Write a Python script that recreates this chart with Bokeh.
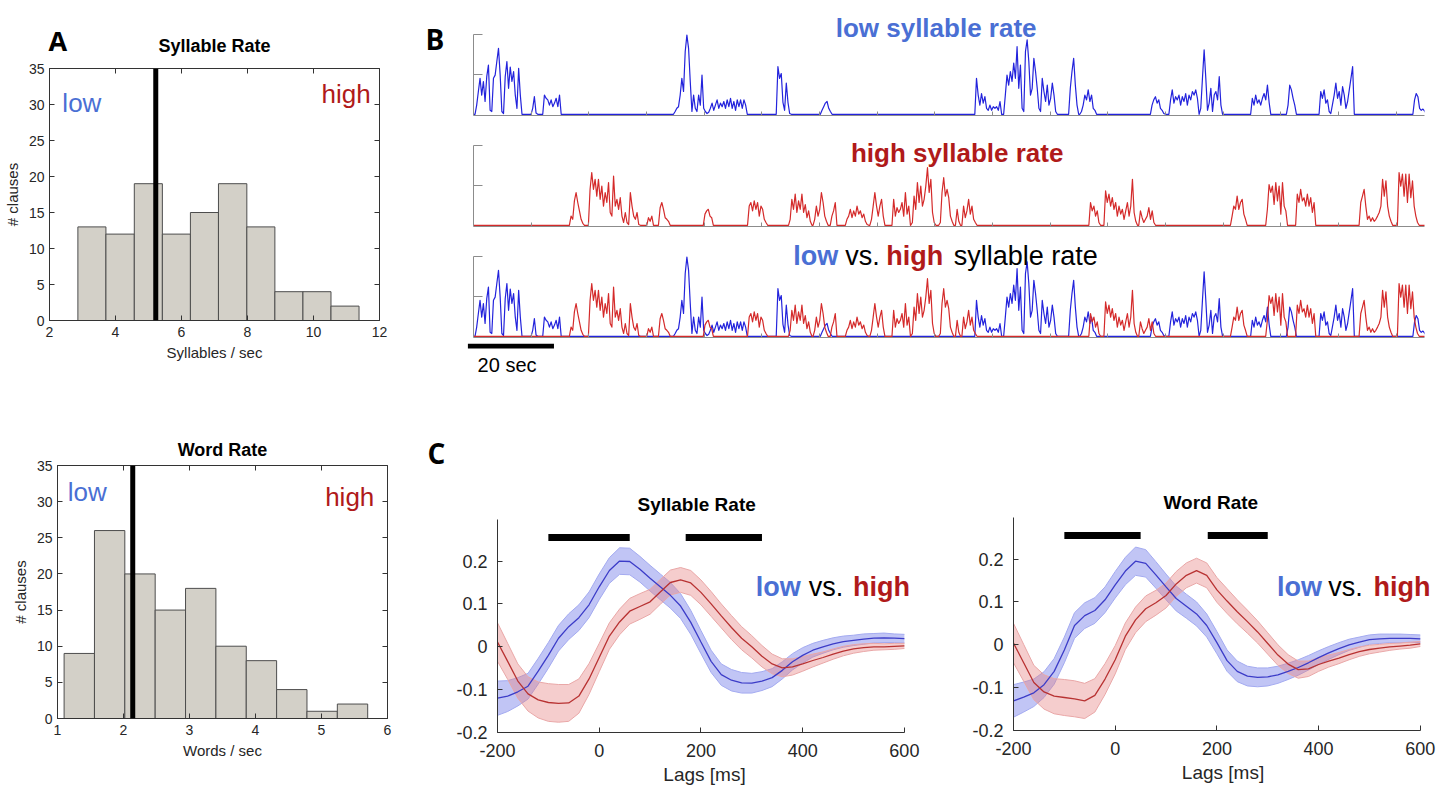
from bokeh.plotting import figure
from bokeh.layouts import row, column
from bokeh.models import (Range1d, LinearAxis, FixedTicker, Span, Label, PrintfTickFormatter,
                          CustomJSTickFormatter)
from bokeh.core.properties import value
from bokeh.embed import file_html
from bokeh.resources import INLINE

FONT = "Liberation Sans"
LETTER_FONT = "Open Sans"
LOW_TXT = "#4a6fd4"
HIGH_TXT = "#b01a1a"
AXC = "#333333"
LBL = "#262626"

# ---------------- Panel A data ----------------
syl_edges = [2.86, 3.71, 4.57, 5.42, 6.27, 7.12, 7.98, 8.83, 9.68, 10.53, 11.38]
syl_counts = [13, 12, 19, 12, 15, 19, 13, 4, 4, 2]
syl_threshold = 5.22
word_edges = [1.10, 1.56, 2.02, 2.48, 2.94, 3.40, 3.86, 4.32, 4.78, 5.24, 5.70]
word_counts = [9, 26, 20, 15, 18, 10, 8, 4, 1, 2]
word_threshold = 2.14
syl_xticks = [2, 4, 6, 8, 10, 12]
word_xticks = [1, 2, 3, 4, 5, 6]
count_ticks = [0, 5, 10, 15, 20, 25, 30, 35]

# ---------------- Panel B data (envelope segments, seconds) ----------------
DT = 0.39
T_MAX = 221.0
tick_interval = 13.4
blue_starts = [0.35, 13.37, 16.09, 46.47, 70.35, 80.6, 116.5, 123.2, 138.3, 140.9,
               157.3, 161.6, 180.6, 188.9, 196.5, 218.3]
blue_segments = [
    [0, 0.23, 0.57, 0.9, 0.48, 0.82, 0.32, 0.94, 1.23, 0.1, 0.07, 0.9, 0.98, 1.32, 1.65, 0.98,
     0.07, 0.02, 0.94, 1.32, 0.65, 1.18, 0.82, 1.07, 0.48, 0.15, 1.15, 0.48, 0],
    [0, 0.15, 0.44, 0.03, 0],
    [0, 0.48, 0.4, 0.36, 0.23, 0.36, 0.19, 0.28, 0.4, 0.19, 0.48, 0],
    [0, 0.07, 0.15, 0.19, 0.48, 0.9, 0.57, 1.57, 1.98, 1.65, 0.82, 0.07, 0.48, 0.15, 0.07, 0.48,
     0.23, 0.98, 0.15, 0.07, 0.02, 0.05, 0.15, 0.28, 0.1, 0.23, 0.36, 0.15, 0.28, 0.19, 0.32,
     0.15, 0.36, 0.19, 0.4, 0.15, 0.32, 0.1, 0.36, 0.19, 0.36, 0.15, 0.36, 0.23, 0],
    [0, 1.19, 0.9, 1.02, 0.3, 0.1, 0.78, 0.3, 0.02, 0],
    [0, 0.1, 0.19, 0.28, 0.32, 0.15, 0.07, 0],
    [0, 0.9, 0.48, 0.23, 0.52, 0.28, 0.44, 0.15, 0.1, 0.23, 0.1, 0.19, 0.15, 0.19, 0.1, 0.32, 0],
    [0, 0.48, 0.98, 0.73, 1.07, 0.82, 1.28, 0.9, 1.69, 0.65, 1.23, 0.15, 0.07, 1.57, 1.86, 1.32,
     0.48, 0.65, 1.4, 1.07, 0.65, 0.15, 0.07, 0.9, 0.57, 0.32, 0.73, 0.23, 0.4, 0.78, 0.48, 0.07, 0],
    [0, 0.65, 1.07, 1.4, 0.73, 0.23, 0],
    [0, 0.07, 0.23, 0.48, 0.36, 0.61, 0.32, 0.48, 0.15, 0.1, 0],
    [0, 0.23, 0.36, 0.44, 0.28, 0.36, 0.15, 0.1, 0.02, 0],
    [0, 0.36, 0.61, 0.28, 0.44, 0.36, 0.48, 0.23, 0.44, 0.32, 0.52, 0.23, 0.48, 0.36, 0.57, 0.48,
     0.61, 0.4, 0, 0.15, 0.9, 1.61, 0.9, 0.1, 0.28, 0.65, 0.07, 0.48, 0.57, 0.36, 0.94, 0.23, 0],
    [0, 0.4, 0.23, 0.48, 0.28, 0.36, 0.23, 0.4, 0.52, 0.36, 0.73, 0.3, 0],
    [0, 0.23, 0.73, 0.61, 0.4, 0.23, 0],
    [0, 0.57, 0.4, 0.61, 0.28, 0.36, 0.07, 0.02, 0.25, 0.48, 0.78, 0.4, 0.57, 0.23, 0.69, 0.48,
     0.15, 0.32, 0.61, 0.9, 1.19, 0],
    [0, 0.36, 0.52, 0.44, 0.15, 0.1, 0.13, 0.08],
]
red_starts = [22.28, 26.7, 40.27, 42.98, 53.4, 63.68, 73.2, 78.9, 82.9, 86.4, 92.1, 97.25,
              101.6, 108.1, 112.0, 113.5, 143.0, 146.5, 154.6, 175.9, 184.1, 191.05, 205.8, 214.7]
red_segments = [
    [0, 0.23, 0.15, 0.61, 0.82, 0.57, 0.36, 0.15, 0.05, 0],
    [0, 0.9, 1.32, 0.9, 1.15, 0.73, 1.15, 0.65, 0.98, 0.48, 0.82, 0.57, 1.07, 0.32, 0.23, 1.23,
     0.48, 0.65, 0.4, 0.69, 0.23, 0.07, 0.32, 0.07, 0.02, 0.82, 0.48, 0.23, 0.15, 0.32, 0.02, 0],
    [0, 0.19, 0.1, 0.23, 0],
    [0, 0.44, 0.57, 0.4, 0.19, 0.15, 0.1, 0],
    [0, 0.28, 0.36, 0.4, 0.23, 0.19, 0],
    [0, 0.48, 0.57, 0.36, 0.61, 0.4, 0.57, 0.23, 0.48, 0.4, 0.15, 0.07, 0],
    [0, 0.15, 0.65, 0.4, 0.78, 0.32, 0.61, 0.4, 0.78, 0.32, 0.52, 0.19, 0.36, 0.1, 0],
    [0, 0.15, 0.48, 0.23, 0.4, 0.82, 0.57, 0.23, 0.1, 0],
    [0, 0.23, 0.36, 0.57, 0],
    [0, 0.15, 0.23, 0.4, 0.19, 0.36, 0.23, 0.48, 0.28, 0.36, 0.19, 0.28, 0.1, 0.02, 0],
    [0, 0.15, 0.48, 0.82, 0.48, 0.23, 0.48, 0.65, 0.23, 0],
    [0, 0.65, 0.23, 0.44, 0.32, 0.4, 0.57, 0.23, 0.82, 0.28, 0.48, 0],
    [0, 0.07, 0.73, 0.4, 1.07, 0.57, 0.98, 0.48, 0.65, 0.98, 1.44, 0.82, 1.15, 0.32, 0.07, 0],
    [0, 0.07, 0.82, 1.19, 0.73, 0.9, 0.69, 0.23, 0.1, 0],
    [0, 0.4, 0.1, 0],
    [0, 0.48, 0.19, 0.36, 0.65, 0.28, 0.48, 0.15, 0.07, 0],
    [0, 0.57, 0.36, 0.48, 0.23, 0.36, 0.07, 0],
    [0, 0.86, 0.57, 0.78, 0.48, 0.69, 0.4, 0.57, 0.23, 0.48, 0.28, 0.4, 0.15, 0.36, 0.57, 0.23,
     0.48, 1.15, 0.32, 0.1, 0],
    [0, 0.36, 0.19, 0.07, 0.15, 0.23, 0.44, 0.15, 0.36, 0.07, 0],
    [0, 0.23, 0.48, 0.4, 0.73, 0.4, 0.57, 0.65, 0.28, 0.15, 0],
    [0, 0.4, 1.02, 0.82, 0.98, 0.52, 1.07, 0.61, 0.98, 0.28, 1.07, 0.48, 0.36, 0],
    [0, 0.78, 0.57, 0.9, 0.61, 0.69, 0.48, 0.78, 0.48, 0.69, 0.32, 0.57, 0],
    [0, 0.57, 0.73, 0.9, 0.48, 0.15, 0.23, 0.1, 0.19, 0.1, 0.15, 0.23, 0.32, 0.48, 1.15, 0.73,
     1.11, 0.48, 0.23, 0.1, 0],
    [0, 1.32, 0.98, 1.28, 0.73, 1.28, 0.57, 1.28, 0.69, 1.11, 0.48, 0.23, 0.07, 0],
]
scalebar_start = -1.3
scalebar_len = 20.0

# ---------------- Panel C data ----------------
lags = list(range(-200, 601, 20))
syl_low_mean = [-0.120, -0.115, -0.105, -0.092, -0.057, -0.020, 0.020, 0.047, 0.068, 0.098,
                0.140, 0.178, 0.200, 0.199, 0.181, 0.160, 0.140, 0.120, 0.095, 0.057,
                0.011, -0.034, -0.065, -0.078, -0.084, -0.085, -0.080, -0.072, -0.055, -0.035,
                -0.020, -0.008, 0.000, 0.007, 0.012, 0.015, 0.018, 0.020, 0.021, 0.020,
                0.019]
syl_high_mean = [0.011, -0.034, -0.080, -0.110, -0.124, -0.130, -0.132, -0.131, -0.115, -0.075,
                 -0.025, 0.025, 0.058, 0.083, 0.094, 0.105, 0.128, 0.150, 0.156, 0.149,
                 0.127, 0.100, 0.072, 0.045, 0.020, 0.000, -0.022, -0.040, -0.049, -0.047,
                 -0.040, -0.032, -0.025, -0.017, -0.010, -0.005, -0.002, 0.000, 0.000, 0.001,
                 0.002]
syl_low_sem = [0.040, 0.036, 0.033, 0.030, 0.030, 0.030, 0.030, 0.030, 0.030, 0.030,
               0.030, 0.030, 0.031, 0.031, 0.030, 0.030, 0.030, 0.030, 0.029, 0.028,
               0.027, 0.026, 0.025, 0.025, 0.024, 0.023, 0.022, 0.021, 0.020, 0.019,
               0.018, 0.016, 0.015, 0.014, 0.013, 0.012, 0.012, 0.011, 0.011, 0.010,
               0.010]
syl_high_sem = [0.045, 0.042, 0.040, 0.040, 0.042, 0.044, 0.044, 0.043, 0.040, 0.036,
                0.033, 0.031, 0.030, 0.030, 0.030, 0.029, 0.029, 0.029, 0.029, 0.029,
                0.029, 0.029, 0.028, 0.028, 0.027, 0.026, 0.025, 0.023, 0.021, 0.019,
                0.017, 0.015, 0.013, 0.012, 0.011, 0.010, 0.009, 0.008, 0.007, 0.007,
                0.006]
word_low_mean = [-0.131, -0.122, -0.112, -0.093, -0.062, -0.012, 0.045, 0.068, 0.080, 0.105,
                 0.140, 0.172, 0.195, 0.190, 0.163, 0.135, 0.108, 0.090, 0.072, 0.045,
                 0.005, -0.037, -0.062, -0.073, -0.076, -0.075, -0.070, -0.062, -0.053, -0.042,
                 -0.030, -0.019, -0.009, 0.000, 0.006, 0.012, 0.014, 0.015, 0.015, 0.015,
                 0.014]
word_high_mean = [0.004, -0.042, -0.088, -0.110, -0.120, -0.123, -0.126, -0.131, -0.118, -0.080,
                  -0.035, 0.020, 0.058, 0.084, 0.098, 0.115, 0.142, 0.162, 0.173, 0.162,
                  0.128, 0.102, 0.077, 0.054, 0.030, 0.003, -0.024, -0.045, -0.058, -0.056,
                  -0.046, -0.038, -0.031, -0.023, -0.016, -0.011, -0.008, -0.005, -0.003, -0.001,
                  0.002]
word_low_sem = [0.038, 0.035, 0.032, 0.030, 0.030, 0.030, 0.030, 0.030, 0.030, 0.030,
                0.031, 0.032, 0.033, 0.032, 0.031, 0.030, 0.029, 0.028, 0.028, 0.027,
                0.026, 0.025, 0.024, 0.023, 0.022, 0.021, 0.020, 0.019, 0.018, 0.017,
                0.016, 0.015, 0.014, 0.013, 0.012, 0.011, 0.011, 0.010, 0.010, 0.009,
                0.009]
word_high_sem = [0.046, 0.043, 0.040, 0.040, 0.041, 0.042, 0.042, 0.041, 0.039, 0.036,
                 0.033, 0.031, 0.030, 0.030, 0.029, 0.029, 0.029, 0.029, 0.029, 0.029,
                 0.029, 0.029, 0.028, 0.027, 0.026, 0.025, 0.024, 0.022, 0.020, 0.018,
                 0.016, 0.014, 0.013, 0.012, 0.011, 0.010, 0.009, 0.008, 0.007, 0.007,
                 0.006]
syl_sig_starts = [-100, 170]
syl_sig_ends = [60, 320]
word_sig_starts = [-100, 182]
word_sig_ends = [50, 300]
sig_level = 0.255
lag_xticks = [-200, 0, 200, 400, 600]
lag_yticks = [-0.2, -0.1, 0, 0.1, 0.2]

NO_LABELS = CustomJSTickFormatter(code="return '';")


def label(p, x, y, text, size, color="black", style="normal", align="left",
          baseline="alphabetic", font=FONT):
    p.add_layout(Label(x=x, y=y, text=text, text_font=font, text_font_size=size,
                       text_color=color, text_font_style=style, text_align=align,
                       text_baseline=baseline))


def gtext(p, x, y, text, size, style="bold", align="left", baseline="middle", font=FONT):
    # text drawn as a glyph (panels that carry only text)
    p.text(x=[x], y=[y], text=[text], text_font=value(font), text_font_size=value(size),
           text_color="black", text_font_style=style, text_align=align,
           text_baseline=baseline)


def base_fig(width, height, xr, yr, l, r, t, b):
    p = figure(width=width, height=height, x_range=Range1d(*xr), y_range=Range1d(*yr),
               output_backend="svg", toolbar_location=None,
               min_border_left=l, min_border_right=r, min_border_top=t, min_border_bottom=b)
    p.grid.visible = False
    p.background_fill_color = "white"
    p.border_fill_color = "white"
    return p


def strip(width, height):
    # text-only panel; coordinates are pixels from the panel's lower-left corner
    p = base_fig(width, height, (0, width), (0, height), 0, 0, 0, 0)
    p.outline_line_color = None
    p.axis.visible = False
    return p


def style_axis(ax, ticks, tick_in, color, label_size, standoff, show_labels=True):
    ax.ticker = FixedTicker(ticks=ticks)
    ax.major_tick_in = tick_in
    ax.major_tick_out = 0
    ax.minor_tick_line_color = None
    ax.axis_line_color = color
    ax.major_tick_line_color = color
    ax.major_label_text_font = FONT
    ax.major_label_standoff = standoff
    ax.axis_label_text_font = FONT
    ax.axis_label_text_font_style = "normal"
    ax.axis_label_text_color = LBL
    if show_labels:
        ax.major_label_text_font_size = label_size
        ax.major_label_text_color = LBL
        ax.formatter = PrintfTickFormatter(format="%g")
    else:
        ax.major_label_text_color = None
        ax.formatter = NO_LABELS


def hist_panel(edges, counts, thr, xr, xticks, xlabel, l, r, t, b, height):
    p = base_fig(413, height, xr, (0, 35), l, r, t, b)
    p.outline_line_color = AXC
    p.quad(left=edges[:-1], right=edges[1:], bottom=0, top=counts,
           fill_color="#d3d0c8", line_color="#4d4d4d", line_width=1)
    p.add_layout(Span(location=thr, dimension="height", line_color="black", line_width=5))
    style_axis(p.xaxis[0], xticks, 5, AXC, "14px", 6)
    style_axis(p.yaxis[0], count_ticks, 5, AXC, "14px", 5)
    p.xaxis.axis_label = xlabel
    p.yaxis.axis_label = "# clauses"
    p.xaxis.axis_label_text_font_size = "15px"
    p.yaxis.axis_label_text_font_size = "15px"
    p.xaxis.axis_label_standoff = 4
    p.yaxis.axis_label_standoff = 5
    for side, ticks in (("above", xticks), ("right", count_ticks)):
        ax = LinearAxis()
        style_axis(ax, ticks, 5, AXC, "14px", 0, show_labels=False)
        ax.axis_line_color = None
        p.add_layout(ax, side)
    return p


# ---------------- Panel A ----------------
sA = strip(413, 59)
gtext(sA, 48, 19, "A", "27px", font=LETTER_FONT)
gtext(sA, 214, 14, "Syllable Rate", "18px", align="center")

pA1 = hist_panel(syl_edges, syl_counts, syl_threshold, (2, 12), syl_xticks,
                 "Syllables / sec", 49, 34, 9, 78, 339)
label(pA1, 2.39, 30.2, "low", "26px", LOW_TXT)
label(pA1, 11.73, 31.4, "high", "26px", HIGH_TXT, align="right")

pA2 = hist_panel(word_edges, word_counts, word_threshold, (1, 6), word_xticks,
                 "Words / sec", 57, 26, 67, 64, 384)
pA2.title.text = "Word Rate"
pA2.title.align = "center"
pA2.title.text_font = FONT
pA2.title.text_font_size = "18px"
pA2.title.text_font_style = "bold"
pA2.title.text_color = "black"
pA2.title.standoff = 11
label(pA2, 1.156, 31.3, "low", "26px", LOW_TXT)
label(pA2, 5.80, 30.6, "high", "26px", HIGH_TXT, align="right")


# ---------------- Panel B ----------------
def build_trace(starts, segs):
    xs, ys = [0.0], [0.0]
    for s, seg in sorted(zip(starts, segs), key=lambda a: a[0]):
        for i, v in enumerate(seg):
            xs.append(s + i * DT)
            ys.append(v)
    xs.append(T_MAX + 0.5)
    ys.append(0.0)
    return xs, ys


blue_x, blue_y = build_trace(blue_starts, blue_segments)
red_x, red_y = build_trace(red_starts, red_segments)
b_ticks = [tick_interval * k for k in range(1, 17)]
GRAY = "#8c8c8c"
BLUE_L = "#2323dc"
RED_L = "#d42a2a"
B_PX_PER_UNIT = 40.0
B_FRAME_W = 951
B_PX_PER_S = B_FRAME_W / T_MAX
Y0 = -0.03


def trace_panel(height, b):
    frame_h = height - b
    p = base_fig(980, height, (0, T_MAX), (Y0, Y0 + frame_h / B_PX_PER_UNIT),
                 4, 980 - 4 - B_FRAME_W, 0, b)
    p.outline_line_color = None
    style_axis(p.xaxis[0], b_ticks, 4, GRAY, "10px", 0, show_labels=False)
    style_axis(p.yaxis[0], [1, 2], 9, GRAY, "10px", 0, show_labels=False)
    p.xaxis.bounds = (0, T_MAX)
    p.yaxis.bounds = (Y0, 2.0)
    return p


pB1 = trace_panel(122, 7)
pB1.line(blue_x, blue_y, line_color=BLUE_L, line_width=1.2, line_join="round")
label(pB1, 107.5, 2.17, "low syllable rate", "26px", LOW_TXT, "bold", align="center")

pB2 = trace_panel(111, 7)
pB2.line(red_x, red_y, line_color=RED_L, line_width=1.2, line_join="round")
label(pB2, 112.4, 1.80, "high syllable rate", "26px", HIGH_TXT, "bold", align="center")

pB3 = trace_panel(110, 6)
pB3.line(blue_x, blue_y, line_color=BLUE_L, line_width=1.2, line_join="round")
pB3.line(red_x, red_y, line_color=RED_L, line_width=1.2, line_join="round")
label(pB3, 74.3, 2.02, "low", "27px", LOW_TXT, "bold")
label(pB3, 86.4, 2.02, "vs.", "27px", "black")
label(pB3, 95.9, 2.02, "high", "27px", HIGH_TXT, "bold")
label(pB3, 111.6, 2.02, "syllable rate", "27px", "black")

sB = strip(56, 343)
gtext(sB, 12, 305, "B", "28px", font=LETTER_FONT)

b_left = -(56 + 4) / B_PX_PER_S
pB4 = base_fig(1038, 39, (b_left, b_left + 1038 / B_PX_PER_S), (0, 1), 0, 0, 0, 0)
pB4.outline_line_color = None
pB4.axis.visible = False
pB4.segment(x0=[scalebar_start], x1=[scalebar_start + scalebar_len], y0=[0.936], y1=[0.936],
            line_color="black", line_width=5)
label(pB4, 7.8, 0.436, "20 sec", "20px", "black", align="center", baseline="middle")


# ---------------- Panel C ----------------
C_PX_PER_MS = 407 / 800


def lag_panel(width, l, t, b, x_end, title, title_left, lo_m, lo_s, hi_m, hi_s, sig_s, sig_e):
    frame_w = round((x_end + 200) * C_PX_PER_MS)
    p = base_fig(width, 408, (-200, x_end), (-0.2, 0.297), l, width - l - frame_w, t, b)
    p.outline_line_color = None
    p.title.text = title
    p.title.align = "left"
    p.title.offset = title_left
    p.title.text_font = FONT
    p.title.text_font_size = "19px"
    p.title.text_font_style = "bold"
    p.title.text_color = "black"
    p.title.standoff = 10
    for m, s, fill, edge in ((lo_m, lo_s, "#646ee6", "#a3aaf0"),
                             (hi_m, hi_s, "#e68282", "#e9a7a7")):
        lo = [a - e for a, e in zip(m, s)]
        hi = [a + e for a, e in zip(m, s)]
        p.varea(x=lags, y1=lo, y2=hi, fill_color=fill, fill_alpha=0.4)
        p.line(lags, lo, line_color=edge, line_width=1)
        p.line(lags, hi, line_color=edge, line_width=1)
    p.line(lags, lo_m, line_color="#3c3cc8", line_width=1.3)
    p.line(lags, hi_m, line_color="#b83232", line_width=1.3)
    p.segment(x0=sig_s, x1=sig_e, y0=[sig_level] * len(sig_s), y1=[sig_level] * len(sig_s),
              line_color="black", line_width=7)
    style_axis(p.xaxis[0], lag_xticks, 5, AXC, "18px", 11)
    style_axis(p.yaxis[0], lag_yticks, 5, AXC, "18px", 10)
    p.xaxis.bounds = (-200, 600)
    p.xaxis.axis_label = "Lags [ms]"
    p.xaxis.axis_label_text_font_size = "19px"
    p.xaxis.axis_label_standoff = 4
    return p


sC = strip(40, 408)
gtext(sC, 14, 338, "C", "28px", font=LETTER_FONT)

pC1 = lag_panel(515, 44, 137, 58, 614, "Syllable Rate", 140, syl_low_mean, syl_low_sem,
                syl_high_mean, syl_high_sem, syl_sig_starts, syl_sig_ends)
label(pC1, 308, 0.140, "low", "27px", LOW_TXT, "bold")
label(pC1, 412, 0.140, "vs.", "27px", "black")
label(pC1, 499, 0.140, "high", "27px", HIGH_TXT, "bold")

pC2 = lag_panel(483, 45, 135, 60, 624, "Word Rate", 150, word_low_mean, word_low_sem,
                word_high_mean, word_high_sem, word_sig_starts, word_sig_ends)
label(pC2, 318, 0.134, "low", "27px", LOW_TXT, "bold")
label(pC2, 419, 0.134, "vs.", "27px", "black")
label(pC2, 508, 0.134, "high", "27px", HIGH_TXT, "bold")

# every plot sits in its own single-child column so that neighbouring frames are not aligned
colA = column(column(sA), column(pA1), column(pA2))
colB = column(row(column(sB), column(pB1, pB2, pB3)), column(pB4),
              row(column(sC), column(pC1), column(pC2)))
layout = row(colA, colB)
open("out.html", "w").write(file_html(layout, INLINE))
